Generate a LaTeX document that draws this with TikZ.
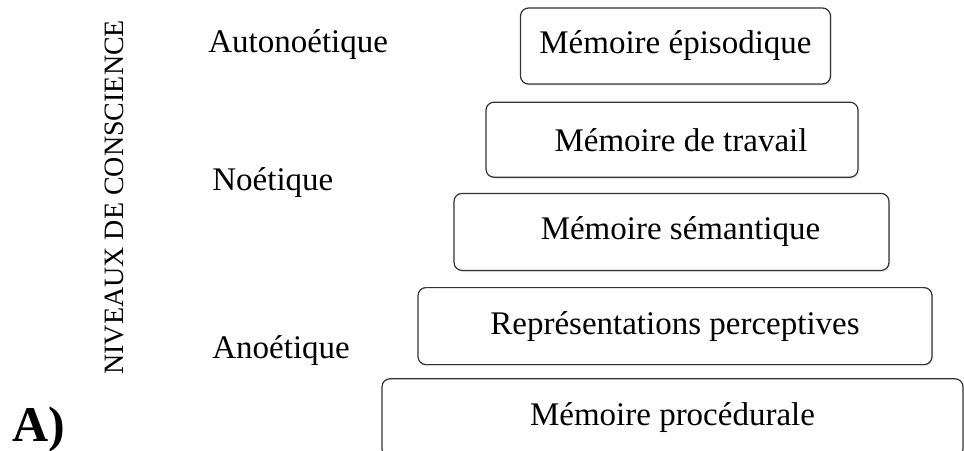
\documentclass[tikz,border=0pt]{standalone}
\usepackage{fontspec}
\setmainfont{Liberation Serif}
\usetikzlibrary{positioning}
\usetikzlibrary{shadows}

\begin{document}
\begin{tikzpicture}[x=0.5pt,y=-0.5pt,
    mem/.style={draw=black!80, line width=0.6pt, rounded corners=4pt, fill=white,
      minimum height=38pt, font=\fontsize{16.5}{20}\selectfont,
      drop shadow={opacity=0.18, shadow xshift=0.6pt, shadow yshift=-0.8pt}},
    level/.style={anchor=base west, inner sep=0pt, font=\fontsize{16.5}{20}\selectfont},
    node distance=8pt,
  ]
  \useasboundingbox (0,0) rectangle (964,450);

  % pyramide des memoires
  \node[mem, minimum width=155pt]           (epi)  at (675.5,46) {Mémoire épisodique};
  \node[mem, minimum width=186pt, minimum height=37.5pt, below=8.5pt of epi, xshift=-1.75pt]
    (trav) {\hspace{9pt}Mémoire de travail};
  \node[mem, minimum width=217.5pt, minimum height=38.5pt, below=7.5pt of trav, xshift=-0.25pt]
    (sem)  {\hspace{9pt}Mémoire sémantique};
  \node[mem, minimum width=257pt, minimum height=38.5pt, below=8pt of sem, xshift=1.75pt]
    (perc) {Représentations perceptives};
  \node[mem, minimum width=290.5pt, minimum height=39pt, below=6.5pt of perc, xshift=-1.25pt]
    (proc) {Mémoire procédurale};

  % niveaux de conscience
  \node[level] (auto)  at (208,52)  {Autonoétique};
  \node[level] (noet)  at (212,190) {Noétique};
  \node[level] (anoet) at (212,358) {Anoétique};

  \node[anchor=base west, inner sep=0pt, rotate=90, font=\fontsize{14}{16}\selectfont]
    (axe) at (123,375) {NIVEAUX DE CONSCIENCE};

  \node[anchor=base west, inner sep=0pt, font=\fontsize{25}{30}\selectfont\bfseries]
    (lettre) at (12,441) {A)};
\end{tikzpicture}
\end{document}
